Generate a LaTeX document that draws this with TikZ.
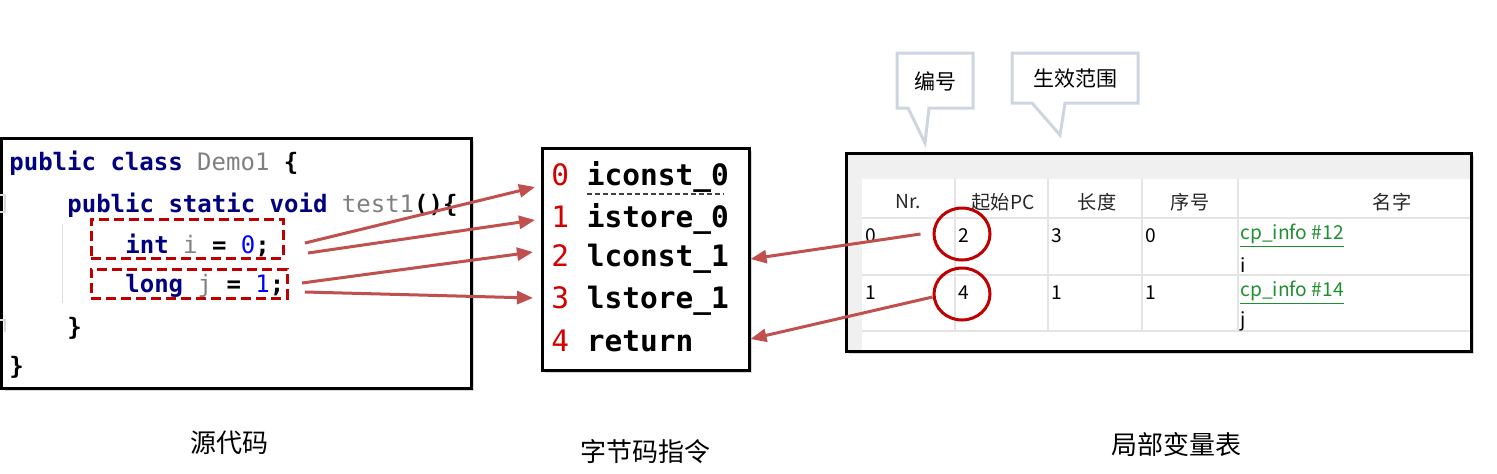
\documentclass[tikz,border=0pt]{standalone}
\usepackage{fontspec}
\setmonofont{DejaVu Sans Mono}
\newfontfamily\cjk{Noto Sans CJK SC}
\usetikzlibrary{
  arrows.meta,
  shapes.geometric,
  shadows,
  fit
}

\definecolor{kwblue}{HTML}{000080}
\definecolor{idgray}{HTML}{808080}
\definecolor{numblue}{HTML}{0000FF}
\definecolor{pcred}{HTML}{D40000}
\definecolor{arrowred}{HTML}{C0504D}
\definecolor{markred}{HTML}{C00000}
\definecolor{tipgray}{HTML}{CDD5E0}
\definecolor{linkgreen}{HTML}{1F8F2F}
\definecolor{gridgray}{HTML}{E4E4E4}
\definecolor{panegray}{HTML}{F0F0F0}

\tikzset{
  panel/.style={draw=black, line width=1.5pt, fill=white, inner sep=0pt,
    drop shadow={shadow xshift=1.5pt, shadow yshift=-1.5pt, opacity=0.3}},
  codeline/.style={anchor=west, inner sep=0pt,
    font=\fontsize{12}{14}\selectfont\ttfamily\bfseries, text=kwblue},
  bcline/.style={anchor=west, inner sep=0pt,
    font=\fontsize{14.75}{17}\selectfont\ttfamily\bfseries},
  cell/.style={anchor=west, inner sep=0pt, font=\fontsize{9.6}{11}\selectfont\cjk},
  head/.style={inner sep=0pt, text=black!85, font=\fontsize{9.6}{11}\selectfont\cjk},
  caption/.style={inner sep=0pt, font=\fontsize{13}{15}\selectfont\cjk},
  tiptext/.style={inner sep=0pt, font=\fontsize{10.5}{12}\selectfont\cjk},
  tipline/.style={draw=tipgray, line width=1.5pt, fill=white, line join=miter},
  declbox/.style={draw=markred, line width=1.5pt, dash pattern=on 5pt off 2.5pt,
    inner sep=0pt},
  pcmark/.style={ellipse, draw=markred, line width=1.5pt, minimum width=28pt,
    minimum height=26pt, inner sep=0pt},
  mapto/.style={draw=arrowred, line width=1.5pt, -{Triangle[length=8pt,width=6.5pt]}}
}

\newcommand{\idf}[1]{{\mdseries\color{idgray}#1}}
\newcommand{\lit}[1]{{\mdseries\color{numblue}#1}}
\newcommand{\blk}[1]{{\color{black}#1}}
\newcommand{\pcno}[1]{{\mdseries\color{pcred}#1}}

\begin{document}
\begin{tikzpicture}[x=0.5pt, y=-0.5pt]
  \def\Xcode{9};
  \def\Xbody{67};
  \def\Xstmt{125};
  \def\Xbc{551};
  \def\Yhead{202};
  \def\Yra{236};
  \def\Yrb{293};
  \useasboundingbox (0,0) rectangle (1497,473);

  % source code
  \node[panel, fit={(1.5,138) (471,388)}] (src) {};
  \draw[gray!25, line width=0.5pt] (62,224) -- (62,303);          % indent guide
  \draw[gray!30, line width=0.6pt] (0,195) -- (5,195) -- (5,212) -- (0,212);
  \draw[gray!30, line width=0.6pt] (0,320) -- (5,320) -- (5,332);
  \node[codeline] (l1) at (\Xcode, 163) {public class \idf{Demo1} \blk{\{}};
  \node[codeline] (l2) at (\Xbody, 205) {public static void \idf{test1}\blk{()\{}};
  \node[codeline] (l3) at (\Xstmt, 245) {int \idf{i} \blk{=} \lit{0}\blk{;}};
  \node[codeline] (l4) at (\Xstmt, 286) {long \idf{j} \blk{=} \lit{1}\blk{;}};
  \node[codeline] (l5) at (\Xbody, 328) {\blk{\}}};
  \node[codeline] (l6) at (\Xcode, 367) {\blk{\}}};
  \node[declbox, fit={(91,219) (283,258)}] (declI) {};              % int i
  \node[declbox, fit={(91,269) (287,298)}] (declJ) {};              % long j

  % bytecode
  \node[panel, fit={(542,148) (749,370)}] (bcbox) {};
  \node[bcline] (bc0) at (\Xbc, 177) {\pcno{0} iconst\_0};
  \node[bcline] (bc1) at (\Xbc, 219) {\pcno{1} istore\_0};
  \node[bcline] (bc2) at (\Xbc, 259) {\pcno{2} lconst\_1};
  \node[bcline] (bc3) at (\Xbc, 301) {\pcno{3} lstore\_1};
  \node[bcline] (bc4) at (\Xbc, 341) {\pcno{4} return};
  \draw[black!75, line width=0.6pt, dash pattern=on 2.5pt off 1.5pt] (587,194) -- (724,194);

  % local variable table
  \node[panel, fill=panegray, fit={(846,153) (1471,351)}] (lvt) {};
  \fill[white] (862,179) rectangle (1469.5,349.5);
  \foreach \y in {218, 275, 331}
    \draw[gridgray, line width=1pt] (862,\y) -- (1469.5,\y);
  \foreach \x in {955, 1048, 1142, 1238}
    \draw[gridgray, line width=1pt] (\x,179) -- (\x,331);
  \node[head] (hNr)   at (908,  \Yhead) {Nr.};
  \node[head] (hPc)   at (1003, \Yhead) {起始PC};
  \node[head] (hLen)  at (1097, \Yhead) {长度};
  \node[head] (hIdx)  at (1190, \Yhead) {序号};
  \node[head] (hName) at (1392, \Yhead) {名字};
  \node[cell] (nrA)  at (865,  \Yra) {0};
  \node[cell] (pcA)  at (958,  \Yra) {2};
  \node[cell] (lenA) at (1051, \Yra) {3};
  \node[cell] (idxA) at (1145, \Yra) {0};
  \node[cell, text=linkgreen] (cpA) at (1240, \Yra) {\underline{cp\_info \#12}};
  \node[cell] (varI) at (1240, 265) {i};
  \node[cell] (nrB)  at (865,  \Yrb) {1};
  \node[cell] (pcB)  at (958,  \Yrb) {4};
  \node[cell] (lenB) at (1051, \Yrb) {1};
  \node[cell] (idxB) at (1145, \Yrb) {1};
  \node[cell, text=linkgreen] (cpB) at (1240, \Yrb) {\underline{cp\_info \#14}};
  \node[cell] (varJ) at (1240, 321) {j};
  \node[pcmark] (pc2) at (962, 234) {};
  \node[pcmark] (pc4) at (962, 294) {};

  % call-outs
  \draw[tipline] (897,53) -- (973,53) -- (973,108) -- (929,108) -- (925,143)
    -- (908,108) -- (897,108) -- cycle;
  \node[tiptext] (tipNo) at (935, 81) {编号};
  \draw[tipline] (1012,53) -- (1138,53) -- (1138,103) -- (1065,103) -- (1060,135)
    -- (1032,103) -- (1012,103) -- cycle;
  \node[tiptext] (tipRange) at (1075, 79) {生效范围};

  % source -> bytecode
  \coordinate (iA) at (305,243);
  \coordinate (iB) at (308,253);
  \coordinate (jA) at (302,283);
  \coordinate (jB) at (305,292);
  \coordinate (to0) at (535,187);
  \coordinate (to1) at (535,220);
  \coordinate (to2) at (533,252);
  \coordinate (to3) at (533,298);
  \draw[mapto] (iA) -- (to0);
  \draw[mapto] (iB) -- (to1);
  \draw[mapto] (jA) -- (to2);
  \draw[mapto] (jB) -- (to3);

  % start pc -> bytecode
  \draw[mapto] ([xshift=-6pt]pc2.west) -- (bcbox.east |- bc2);
  \draw[mapto] ([yshift=-1.5pt]pc4.west) -- ([yshift=1pt]bcbox.east |- bc4);

  % captions
  \node[caption] (capSrc) at (229, 443) {源代码};
  \node[caption] (capBc)  at (645, 452) {字节码指令};
  \node[caption] (capLvt) at (1176, 445) {局部变量表};
\end{tikzpicture}
\end{document}
